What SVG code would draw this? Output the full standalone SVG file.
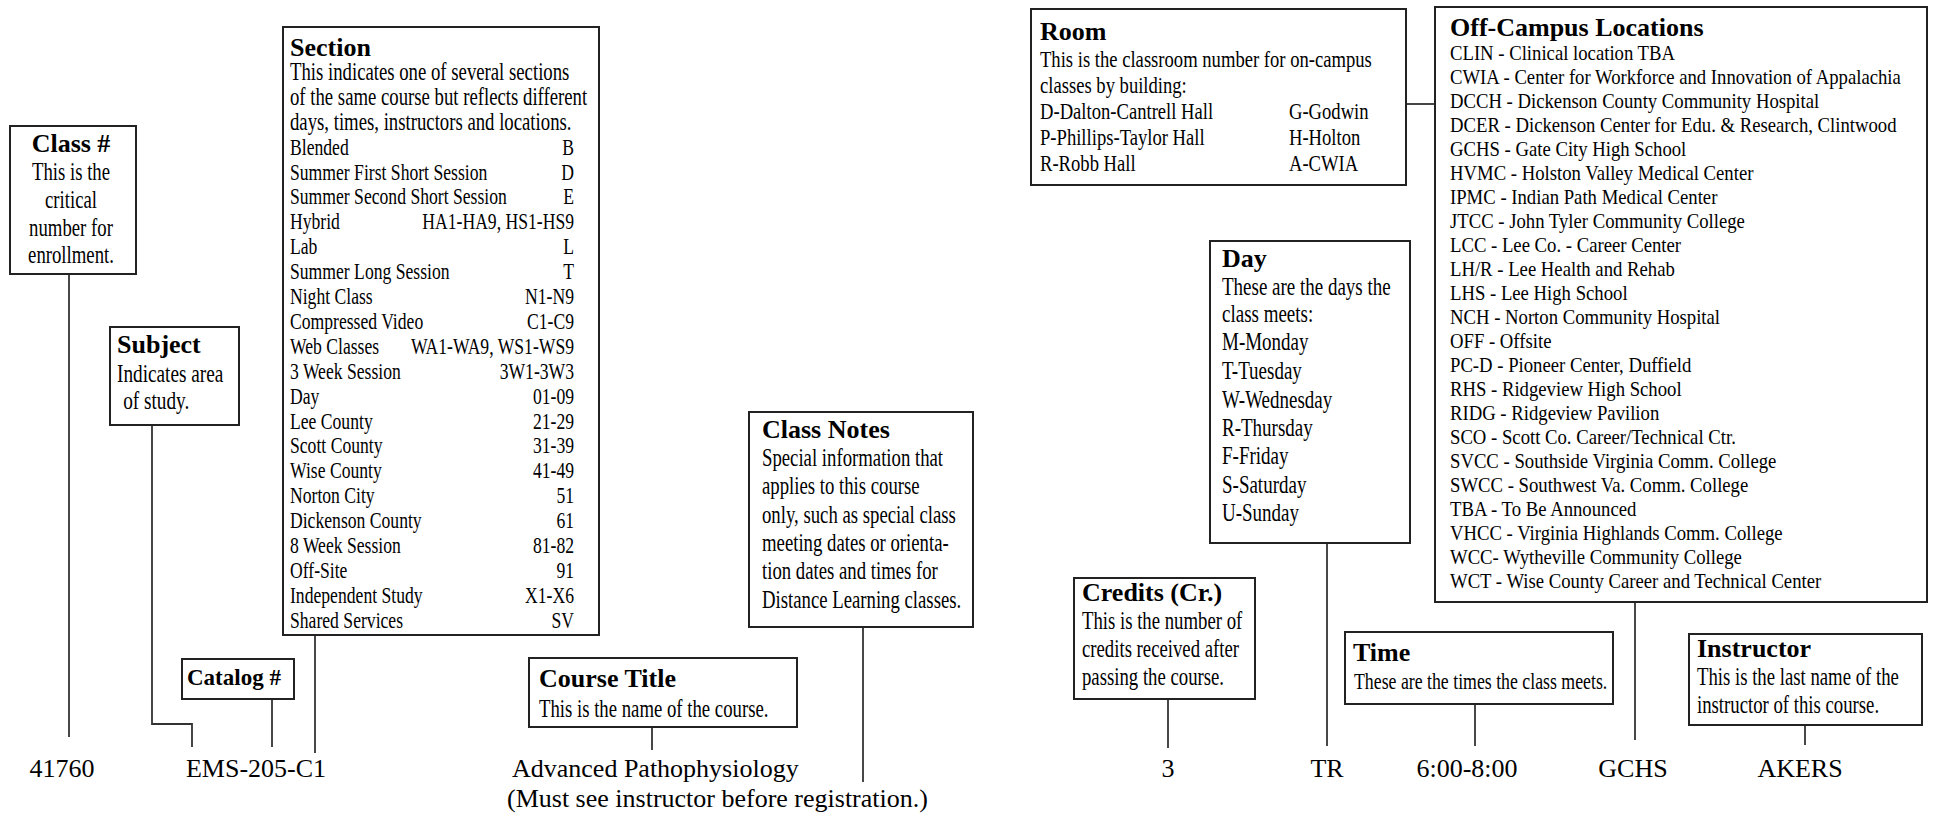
<svg xmlns="http://www.w3.org/2000/svg" width="1933" height="814" viewBox="0 0 1933 814">
<style>
.box{fill:#fff;stroke:#222;stroke-width:2}
.t{font-family:"Liberation Serif","Times New Roman",serif;font-weight:bold;font-size:26px;fill:#000}
.b{font-family:"Liberation Serif","Times New Roman",serif;fill:#000}
.f25{font-size:25px}
.f235{font-size:23.5px}
.f23{font-size:23px}
.f215{font-size:21.5px}
.v{font-family:"Liberation Serif","Times New Roman",serif;font-size:26px;fill:#000}
.e{text-anchor:end}
.m{text-anchor:middle}
#connectors path{fill:none;stroke:#333;stroke-width:1.8}
</style>
<rect width="1933" height="814" fill="#fff"/>
<g id="connectors">
<path d="M69 274V737"/>
<path d="M152 425V724H192V747"/>
<path d="M272 699V747"/>
<path d="M315 635V753"/>
<path d="M652 727V750"/>
<path d="M863 627V782"/>
<path d="M1406 104H1435"/>
<path d="M1327 543V746"/>
<path d="M1168 699V748"/>
<path d="M1475 704V746"/>
<path d="M1635 602V740"/>
<path d="M1805 725V745"/>
</g>
<g id="class-num">
<rect class="box" x="10" y="126" width="126" height="148"/>
<text class="t m" x="71" y="152">Class #</text>
<g class="b f25" transform="translate(71 0) scale(0.75 1)">
<text class="m" x="0" y="180">This is the</text>
<text class="m" x="0" y="208">critical</text>
<text class="m" x="0" y="236">number for</text>
<text class="m" x="0" y="263">enrollment.</text>
</g>
</g>
<g id="subject">
<rect class="box" x="110" y="327" width="129" height="98"/>
<text class="t" x="117" y="353">Subject</text>
<g class="b f25" transform="translate(117 0) scale(0.77 1)">
<text x="0" y="382">Indicates area</text>
<text x="8" y="409">of study.</text>
</g>
</g>
<g id="catalog">
<rect class="box" x="182" y="659" width="112" height="40"/>
<text class="t" x="187" y="685" style="font-size:23px">Catalog #</text>
</g>
<g id="section">
<rect class="box" x="283" y="27" width="316" height="608"/>
<text class="t" x="290" y="56">Section</text>
<g class="b f235" transform="translate(290 0) scale(0.75 1)">
<text class="f25" x="0" y="80">This indicates one of several sections</text>
<text class="f25" x="0" y="104.9">of the same course but reflects different</text>
<text class="f25" x="0" y="129.8">days, times, instructors and locations.</text>
<text x="0" y="154.7">Blended</text><text class="e" x="378.7" y="154.7">B</text>
<text x="0" y="179.6">Summer First Short Session</text><text class="e" x="378.7" y="179.6">D</text>
<text x="0" y="204.5">Summer Second Short Session</text><text class="e" x="378.7" y="204.5">E</text>
<text x="0" y="229.4">Hybrid</text><text class="e" x="378.7" y="229.4">HA1-HA9, HS1-HS9</text>
<text x="0" y="254.3">Lab</text><text class="e" x="378.7" y="254.3">L</text>
<text x="0" y="279.2">Summer Long Session</text><text class="e" x="378.7" y="279.2">T</text>
<text x="0" y="304.1">Night Class</text><text class="e" x="378.7" y="304.1">N1-N9</text>
<text x="0" y="329">Compressed Video</text><text class="e" x="378.7" y="329">C1-C9</text>
<text x="0" y="353.9">Web Classes</text><text class="e" x="378.7" y="353.9">WA1-WA9, WS1-WS9</text>
<text x="0" y="378.8">3 Week Session</text><text class="e" x="378.7" y="378.8">3W1-3W3</text>
<text x="0" y="403.7">Day</text><text class="e" x="378.7" y="403.7">01-09</text>
<text x="0" y="428.6">Lee County</text><text class="e" x="378.7" y="428.6">21-29</text>
<text x="0" y="453.5">Scott County</text><text class="e" x="378.7" y="453.5">31-39</text>
<text x="0" y="478.4">Wise County</text><text class="e" x="378.7" y="478.4">41-49</text>
<text x="0" y="503.3">Norton City</text><text class="e" x="378.7" y="503.3">51</text>
<text x="0" y="528.2">Dickenson County</text><text class="e" x="378.7" y="528.2">61</text>
<text x="0" y="553.1">8 Week Session</text><text class="e" x="378.7" y="553.1">81-82</text>
<text x="0" y="578">Off-Site</text><text class="e" x="378.7" y="578">91</text>
<text x="0" y="602.9">Independent Study</text><text class="e" x="378.7" y="602.9">X1-X6</text>
<text x="0" y="627.8">Shared Services</text><text class="e" x="378.7" y="627.8">SV</text>
</g>
</g>
<g id="course-title">
<rect class="box" x="529" y="658" width="268" height="69"/>
<text class="t" x="539" y="687">Course Title</text>
<g class="b f25" transform="translate(539 0) scale(0.75 1)">
<text x="0" y="717">This is the name of the course.</text>
</g>
</g>
<g id="class-notes">
<rect class="box" x="749" y="412" width="224" height="215"/>
<text class="t" x="762" y="438">Class Notes</text>
<g class="b f25" transform="translate(762 0) scale(0.75 1)">
<text x="0" y="466">Special information that</text>
<text x="0" y="494">applies to this course</text>
<text x="0" y="523">only, such as special class</text>
<text x="0" y="551">meeting dates or orienta-</text>
<text x="0" y="579">tion dates and times for</text>
<text x="0" y="608">Distance Learning classes.</text>
</g>
</g>
<g id="room">
<rect class="box" x="1031" y="9" width="375" height="176"/>
<text class="t" x="1040" y="40">Room</text>
<g class="b f23" transform="translate(1040 0) scale(0.81 1)">
<text x="0" y="67">This is the classroom number for on-campus</text>
<text x="0" y="93">classes by building:</text>
<text x="0" y="119">D-Dalton-Cantrell Hall</text><text x="307.4" y="119">G-Godwin</text>
<text x="0" y="145">P-Phillips-Taylor Hall</text><text x="307.4" y="145">H-Holton</text>
<text x="0" y="171">R-Robb Hall</text><text x="307.4" y="171">A-CWIA</text>
</g>
</g>
<g id="off-campus">
<rect class="box" x="1435" y="7" width="492" height="595"/>
<text class="t" x="1450" y="36">Off-Campus Locations</text>
<g class="b f215" transform="translate(1450 0) scale(0.87 1)">
<text x="0" y="60.5">CLIN - Clinical location TBA</text>
<text x="0" y="84.5">CWIA - Center for Workforce and Innovation of Appalachia</text>
<text x="0" y="108.5">DCCH - Dickenson County Community Hospital</text>
<text x="0" y="132.5">DCER - Dickenson Center for Edu. &amp; Research, Clintwood</text>
<text x="0" y="156.5">GCHS - Gate City High School</text>
<text x="0" y="180.5">HVMC - Holston Valley Medical Center</text>
<text x="0" y="204.5">IPMC - Indian Path Medical Center</text>
<text x="0" y="228.5">JTCC - John Tyler Community College</text>
<text x="0" y="252.5">LCC - Lee Co. - Career Center</text>
<text x="0" y="276.5">LH/R - Lee Health and Rehab</text>
<text x="0" y="300.5">LHS - Lee High School</text>
<text x="0" y="324.5">NCH - Norton Community Hospital</text>
<text x="0" y="348.5">OFF - Offsite</text>
<text x="0" y="372.5">PC-D - Pioneer Center, Duffield</text>
<text x="0" y="396.5">RHS - Ridgeview High School</text>
<text x="0" y="420.5">RIDG - Ridgeview Pavilion</text>
<text x="0" y="444.5">SCO - Scott Co. Career/Technical Ctr.</text>
<text x="0" y="468.5">SVCC - Southside Virginia Comm. College</text>
<text x="0" y="492.5">SWCC - Southwest Va. Comm. College</text>
<text x="0" y="516.5">TBA - To Be Announced</text>
<text x="0" y="540.5">VHCC - Virginia Highlands Comm. College</text>
<text x="0" y="564.5">WCC- Wytheville Community College</text>
<text x="0" y="588.5">WCT - Wise County Career and Technical Center</text>
</g>
</g>
<g id="day">
<rect class="box" x="1210" y="241" width="200" height="302"/>
<text class="t" x="1222" y="267">Day</text>
<g class="b f25" transform="translate(1222 0) scale(0.76 1)">
<text x="0" y="295">These are the days the</text>
<text x="0" y="322">class meets:</text>
<text x="0" y="350">M-Monday</text>
<text x="0" y="379">T-Tuesday</text>
<text x="0" y="408">W-Wednesday</text>
<text x="0" y="436">R-Thursday</text>
<text x="0" y="464">F-Friday</text>
<text x="0" y="493">S-Saturday</text>
<text x="0" y="521">U-Sunday</text>
</g>
</g>
<g id="credits">
<rect class="box" x="1074" y="578" width="181" height="121"/>
<text class="t" x="1082" y="601">Credits (Cr.)</text>
<g class="b f25" transform="translate(1082 0) scale(0.75 1)">
<text x="0" y="629">This is the number of</text>
<text x="0" y="657">credits received after</text>
<text x="0" y="685">passing the course.</text>
</g>
</g>
<g id="time">
<rect class="box" x="1345" y="632" width="268" height="72"/>
<text class="t" x="1353" y="661">Time</text>
<g class="b f235" transform="translate(1354 0) scale(0.757 1)">
<text x="0" y="689">These are the times the class meets.</text>
</g>
</g>
<g id="instructor">
<rect class="box" x="1689" y="634" width="233" height="91"/>
<text class="t" x="1697" y="657">Instructor</text>
<g class="b f25" transform="translate(1697 0) scale(0.75 1)">
<text x="0" y="685">This is the last name of the</text>
<text x="0" y="713">instructor of this course.</text>
</g>
</g>
<g id="values">
<text class="v m" x="62" y="777">41760</text>
<text class="v m" x="256" y="777">EMS-205-C1</text>
<text class="v" x="512" y="777">Advanced Pathophysiology</text>
<text class="v" x="507" y="807">(Must see instructor before registration.)</text>
<text class="v m" x="1168" y="777">3</text>
<text class="v m" x="1327" y="777">TR</text>
<text class="v m" x="1467" y="777">6:00-8:00</text>
<text class="v m" x="1633" y="777">GCHS</text>
<text class="v m" x="1800" y="777">AKERS</text>
</g>
</svg>
